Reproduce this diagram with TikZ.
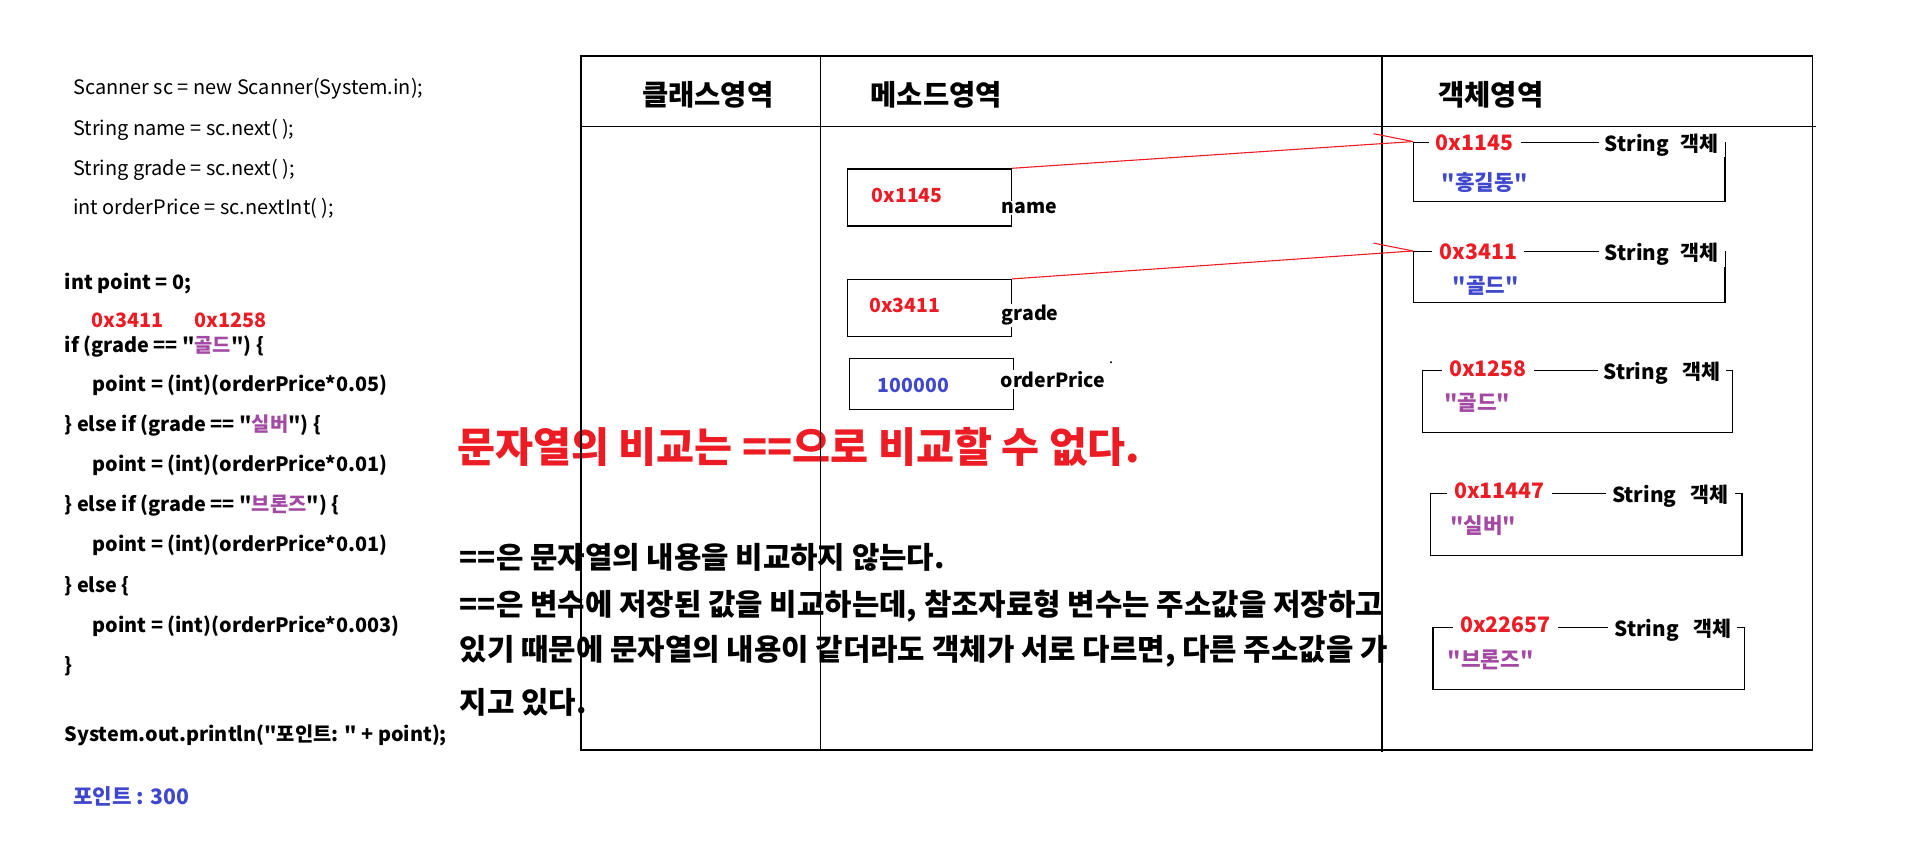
\documentclass[tikz,border=0pt]{standalone}
\usepackage{fontspec}
\setmainfont{Noto Sans CJK KR}[Ligatures=TeXOff]
\definecolor{myred}{RGB}{237,28,36}
\definecolor{myblue}{RGB}{63,72,204}
\definecolor{mypurple}{RGB}{163,73,164}
\begin{document}
\begin{tikzpicture}[x=1pt,y=-1pt,
  T/.style={anchor=base west,inner sep=0pt,font=\fontsize{#1}{#1}\selectfont,yshift=-0.37*#1pt},
  TB/.style={T=#1,font=\fontsize{#1}{#1}\selectfont\bfseries},
  code/.style={T=16.4},
  bcode/.style={TB=16.3},
  head/.style={TB=23.5},
  para/.style={TB=24.5},
  small/.style={TB=16},
  osmall/.style={TB=17.5},
  toplab/.style={osmall,fill=white,inner xsep=6pt,inner ysep=1pt},
  typelab/.style={TB=17,fill=white,inner xsep=5pt,inner ysep=1pt},
  varlab/.style={small,fill=white,inner xsep=1pt,inner ysep=1pt},
  box/.style={draw,line width=1.1pt,inner sep=0pt},
  tline/.style={line width=1.1pt},
  ref/.style={myred,line width=0.9pt}]
\useasboundingbox (0,0) rectangle (1568,704);

% ---- code on the left ----
\node[code] (c1) at (60,72) {Scanner sc = new Scanner(System.in);};
\node[code] (c2) at (60,105) {String name = sc.next( );};
\node[code] (c3) at (60,138) {String grade = sc.next( );};
\node[code] (c4) at (60,170) {int orderPrice = sc.nextInt( );};
\node[bcode] (c5) at (53,232) {int point = 0;};
\node[bcode,text=myred] (a1) at (75,263) {0x3411};
\node[bcode,text=myred] (a2) at (160,263) {0x1258};
\node[bcode] (c6) at (53,284) {if (grade == "\textcolor{mypurple}{골드}") \{};
\node[bcode] (c7) at (76,316) {point = (int)(orderPrice*0.05)};
\node[bcode] (c8) at (53,349) {\} else if (grade == "\textcolor{mypurple}{실버}") \{};
\node[bcode] (c9) at (76,382) {point = (int)(orderPrice*0.01)};
\node[bcode] (c10) at (53,415) {\} else if (grade == "\textcolor{mypurple}{브론즈}") \{};
\node[bcode] (c11) at (76,448) {point = (int)(orderPrice*0.01)};
\node[bcode] (c12) at (53,481) {\} else \{};
\node[bcode] (c13) at (76,514) {point = (int)(orderPrice*0.003)};
\node[bcode] (c14) at (53,547) {\}};
\node[bcode] (c15) at (53,604) {System.out.println("포인트: " + point);};
\node[TB=17.5,text=myblue] (out) at (60,655) {포인트 : 300};

% ---- explanation text ----
\node[TB=34,text=myred] (title) at (376,368) {문자열의 비교는 ==으로 비교할 수 없다.};
\node[para] (p1) at (378,459) {==은 문자열의 내용을 비교하지 않는다.};
\node[para] (p2) at (378,497) {==은 변수에 저장된 값을 비교하는데, 참조자료형 변수는 주소값을 저장하고};
\node[para] (p3) at (378,534) {있기 때문에 문자열의 내용이 같더라도 객체가 서로 다르면, 다른 주소값을 가};
\node[para] (p4) at (378,578) {지고 있다.};

% ---- table ----
\draw[tline] (478,46) rectangle (1491,617);
\draw[tline] (478,104) -- (1494,104);
\draw[tline] (675,46) -- (675,617);
\draw[tline] (1137,46) -- (1137,619);
\node[head] (h1) at (528,78) {클래스영역};
\node[head] (h2) at (716,78) {메소드영역};
\node[head] (h3) at (1183,78) {객체영역};

% ---- method area variables ----
\node[box,minimum width=135pt,minimum height=47pt] (vname) at (764.5,162.5) {};
\node[small,text=myred] (vnameval) at (717,161) {0x1145};
\node[varlab] (vnamelab) at (823,170) {name};

\node[box,minimum width=135pt,minimum height=47pt] (vgrade) at (764.5,253.5) {};
\node[small,text=myred] (vgradeval) at (715,251) {0x3411};
\node[varlab] (vgradelab) at (823,258) {grade};

\node[box,minimum width=135pt,minimum height=42pt] (vprice) at (766.5,316) {};
\node[small,text=myblue] (vpriceval) at (722,317) {100000};
\node[varlab] (vpricelab) at (822,313) {orderPrice};
\fill (914,298) circle (0.9pt);

% ---- object area ----
\node[box,minimum width=256pt,minimum height=49pt] (o1) at (1291,141.5) {};
\node[toplab,text=myred] (o1a) at (1175,117) {0x1145};
\node[typelab] (o1t) at (1315,118) {String\hspace{0.55em}객체};
\node[osmall,text=myblue] (o1v) at (1186,150) {"홍길동"};

\node[box,minimum width=256pt,minimum height=42pt] (o2) at (1291,228) {};
\node[toplab,text=myred] (o2a) at (1178,207) {0x3411};
\node[typelab] (o2t) at (1315,208) {String\hspace{0.55em}객체};
\node[osmall,text=myblue] (o2v) at (1195,235) {"골드"};

\node[box,minimum width=255pt,minimum height=51pt] (o3) at (1297.5,330.5) {};
\node[toplab,text=myred] (o3a) at (1186,303) {0x1258};
\node[typelab] (o3t) at (1314,306) {String\hspace{0.7em}객체};
\node[osmall,text=mypurple] (o3v) at (1188,331) {"골드"};

\node[box,minimum width=256pt,minimum height=51pt] (o4) at (1305,431.5) {};
\node[toplab,text=myred] (o4a) at (1190,404) {0x11447};
\node[typelab] (o4t) at (1321,407) {String\hspace{0.7em}객체};
\node[osmall,text=mypurple] (o4v) at (1193,432) {"실버"};

\node[box,minimum width=256pt,minimum height=51pt] (o5) at (1307,541.5) {};
\node[toplab,text=myred] (o5a) at (1195,514) {0x22657};
\node[typelab] (o5t) at (1323,517) {String\hspace{0.7em}객체};
\node[osmall,text=mypurple] (o5v) at (1191,543) {"브론즈"};

% ---- references ----
\coordinate (b1) at (1130,110);
\coordinate (b2) at (1130,200);
\draw[ref] (vname.north east) -- (o1.north west);
\draw[ref] (b1) -- (o1.north west);
\draw[ref] (vgrade.north east) -- (o2.north west);
\draw[ref] (b2) -- (o2.north west);
\end{tikzpicture}
\end{document}
